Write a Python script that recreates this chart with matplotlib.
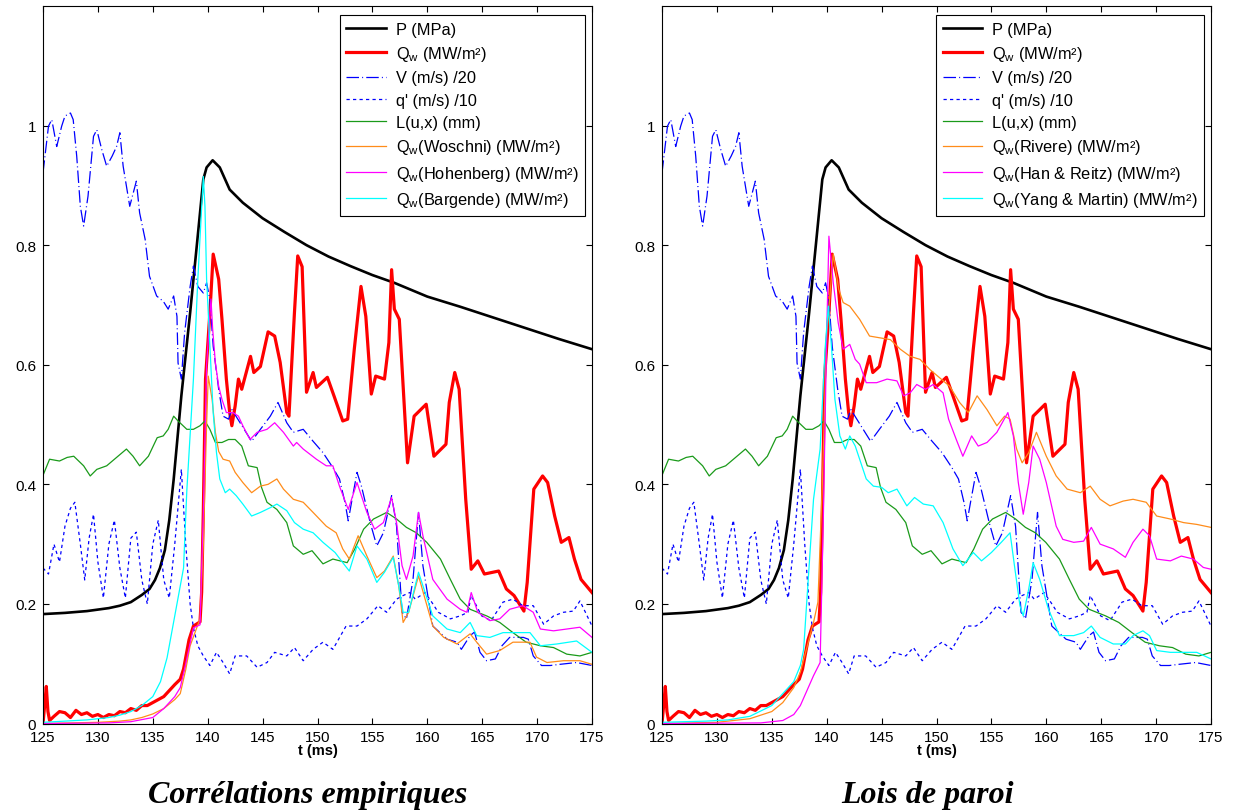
import matplotlib
matplotlib.use("Agg")
import matplotlib.pyplot as plt

plt.rcParams['font.family'] = ['Liberation Sans', 'DejaVu Sans']
plt.rcParams['mathtext.fontset'] = 'custom'
plt.rcParams['mathtext.rm'] = 'Liberation Sans'
plt.rcParams['mathtext.it'] = 'Liberation Sans:italic'

# ---------------- data (shared series) ----------------
t_P = [125, 127, 129, 131, 132, 133, 134, 134.7, 135.2, 135.65, 136.1, 136.5, 136.9, 137.6, 138.4,
       139.0, 139.6, 139.9, 140.45, 141.1, 142.0, 143.2, 145, 147, 149, 151, 153, 155, 157, 160,
       163, 166, 169, 172, 175]
P = [0.183, 0.185, 0.188, 0.193, 0.197, 0.203, 0.215, 0.225, 0.24, 0.26, 0.29, 0.34, 0.408, 0.548, 0.687,
     0.798, 0.91, 0.93, 0.942, 0.93, 0.893, 0.871, 0.845, 0.822, 0.8, 0.781, 0.765, 0.75, 0.737, 0.714,
     0.697, 0.679, 0.661, 0.643, 0.626]

t_Qw = [125, 125.15, 125.3, 125.45, 125.6, 126, 126.5, 127, 127.5, 128, 128.5, 129, 129.5, 130, 130.5,
        131, 131.5, 132, 132.5, 133, 133.5, 134, 134.5, 135, 135.5, 136, 136.5, 137, 137.5, 137.8,
        138.3, 138.7, 139.3, 139.45, 139.6, 139.8, 140.2, 140.5, 141.0, 141.3, 141.7, 142.0, 142.2, 142.5, 142.8,
        143.1, 143.9, 144.2, 144.8, 145.5, 146.1, 146.6, 147.2, 147.4, 147.9, 148.2, 148.6, 149.0, 149.6, 149.9,
        150.9, 151.5, 152.3, 152.75, 153.35, 153.96, 154.4, 154.9, 155.3, 156.1, 156.5, 156.75, 157.0, 157.45, 158.2,
        158.8, 159.9, 160.6, 161.7, 162.0, 162.5, 162.9, 163.5, 164.0, 164.6, 165.2, 166.5, 167.2, 167.9, 168.8,
        169.1, 169.7, 170.5, 170.96, 171.6, 172.2, 172.9, 173.4, 174.0, 175]
Qw = [0.0, 0.03, 0.062, 0.02, 0.005, 0.012, 0.02, 0.018, 0.01, 0.022, 0.015, 0.018, 0.012, 0.015, 0.01,
      0.015, 0.013, 0.02, 0.018, 0.025, 0.022, 0.03, 0.03, 0.035, 0.04, 0.045, 0.055, 0.065, 0.074, 0.091,
      0.14, 0.163, 0.17, 0.22, 0.353, 0.576, 0.687, 0.785, 0.743, 0.676, 0.576, 0.52, 0.498, 0.531, 0.576,
      0.559, 0.614, 0.587, 0.597, 0.655, 0.648, 0.604, 0.52, 0.514, 0.687, 0.782, 0.764, 0.554, 0.587, 0.562,
      0.579, 0.548, 0.506, 0.509, 0.626, 0.731, 0.681, 0.551, 0.581, 0.576, 0.637, 0.759, 0.693, 0.676, 0.436,
      0.514, 0.534, 0.447, 0.467, 0.537, 0.587, 0.559, 0.375, 0.258, 0.272, 0.25, 0.255, 0.225, 0.214, 0.188,
      0.236, 0.392, 0.414, 0.403, 0.347, 0.303, 0.311, 0.275, 0.241, 0.219]

t_V = [125.0, 125.5, 125.8, 126.25, 126.7, 127.0, 127.5, 127.75, 128.07, 128.4, 128.7, 129.1, 129.6, 129.9,
       130.35, 130.8, 131.3, 131.7, 132.0, 132.3, 132.9, 133.5, 133.8, 134.3, 134.7, 135.35, 135.96, 136.4,
       136.9, 137.2, 137.3, 137.6, 137.9, 138.4, 138.7, 139.1, 139.6, 139.9, 140.2, 140.5, 141.0, 141.4,
       141.9, 142.2, 144.0, 144.8, 145.7, 146.4, 147.2, 147.8, 148.7, 149.6, 150.5, 151.4, 152.0, 152.5,
       152.8, 153.1, 153.6, 154.0, 154.8, 155.4, 156.0, 156.75, 157.2, 157.7, 158.1, 158.7, 159.2, 159.6,
       160.5, 161.8, 162.7, 163.1, 163.9, 164.3, 164.8, 165.4, 166.2, 166.8, 167.5, 168.75, 169.2, 169.65,
       170.4, 171.2, 172.1, 173.6, 175]
V = [0.921, 0.999, 1.01, 0.965, 0.999, 1.016, 1.021, 1.01, 0.949, 0.865, 0.832, 0.882, 0.982, 0.993,
     0.96, 0.932, 0.949, 0.965, 0.988, 0.932, 0.865, 0.907, 0.854, 0.81, 0.748, 0.715, 0.706, 0.693,
     0.715, 0.681, 0.603, 0.576, 0.654, 0.731, 0.765, 0.731, 0.72, 0.737, 0.709, 0.631, 0.559, 0.514,
     0.509, 0.525, 0.472, 0.492, 0.514, 0.537, 0.503, 0.487, 0.492, 0.472, 0.453, 0.428, 0.409, 0.37,
     0.339, 0.37, 0.42, 0.397, 0.336, 0.297, 0.319, 0.381, 0.33, 0.186, 0.175, 0.241, 0.353, 0.264,
     0.163, 0.141, 0.136, 0.124, 0.147, 0.153, 0.119, 0.105, 0.108, 0.13, 0.144, 0.144, 0.141, 0.113,
     0.097, 0.097, 0.099, 0.102, 0.097]

t_q = [125, 125.5, 126, 126.5, 127, 127.5, 127.9, 128.4, 128.8, 129.2, 129.6, 130, 130.5, 131, 131.5,
       132, 132.5, 133, 133.5, 134, 134.5, 135, 135.5, 136, 136.5, 137, 137.6, 138.0, 138.4, 138.7,
       139.1, 139.6, 140.2, 140.8, 141.4, 142.0, 142.5, 143.55, 144.5, 145.4, 146.1, 147.2, 147.9, 148.7, 149.6,
       150.5, 151.4, 152.6, 153.6, 154.5, 155.5, 156.3, 157.2, 157.8, 158.4, 158.9, 159.8, 160.4, 161.0, 162.1,
       163.0, 163.7, 164.0, 164.95, 165.8, 166.9, 167.8, 168.7, 169.65, 170.6, 171.5, 172.4, 173.3, 173.9, 174.4,
       175]
q = [0.26, 0.25, 0.3, 0.27, 0.33, 0.36, 0.37, 0.3, 0.24, 0.31, 0.35, 0.27, 0.21, 0.3, 0.34,
     0.26, 0.21, 0.31, 0.32, 0.24, 0.2, 0.3, 0.34, 0.24, 0.21, 0.3, 0.425, 0.3, 0.2, 0.16,
     0.13, 0.113, 0.097, 0.119, 0.102, 0.083, 0.113, 0.113, 0.094, 0.102, 0.119, 0.113, 0.127, 0.105, 0.124,
     0.136, 0.124, 0.163, 0.163, 0.175, 0.197, 0.186, 0.208, 0.214, 0.219, 0.208, 0.219, 0.203, 0.186, 0.175,
     0.18, 0.186, 0.214, 0.18, 0.172, 0.203, 0.208, 0.197, 0.197, 0.166, 0.18, 0.186, 0.188, 0.205, 0.186,
     0.163]

t_L = [125, 125.6, 126.5, 127.2, 127.8, 128.7, 129.3, 129.9, 130.8, 131.7, 132.6, 133.2, 133.8, 134.6,
       135.4, 135.95, 136.4, 136.9, 137.3, 138.1, 138.7, 139.3, 139.75, 140.2, 140.7, 141.3, 141.9, 142.5,
       143.1, 143.7, 144.5, 144.9, 145.4, 146.3, 147.2, 147.8, 148.7, 149.5, 150.5, 151.4, 152.7, 153.4,
       154.2, 155.1, 156.3, 157.2, 158.1, 159.0, 159.95, 161.2, 162.1, 163.0, 163.9, 165.4, 166.6, 167.8,
       169.0, 170.3, 171.5, 172.7, 173.9, 175]
L = [0.415, 0.442, 0.439, 0.445, 0.447, 0.431, 0.414, 0.425, 0.431, 0.445, 0.459, 0.447, 0.431, 0.447,
     0.478, 0.481, 0.492, 0.514, 0.506, 0.492, 0.492, 0.498, 0.506, 0.492, 0.47, 0.47, 0.475, 0.475,
     0.464, 0.431, 0.428, 0.395, 0.37, 0.358, 0.336, 0.297, 0.283, 0.289, 0.267, 0.275, 0.269, 0.292,
     0.325, 0.342, 0.353, 0.342, 0.328, 0.319, 0.303, 0.275, 0.241, 0.208, 0.191, 0.18, 0.169, 0.152,
     0.136, 0.13, 0.127, 0.116, 0.113, 0.119]

# ---------------- left panel models ----------------
t_W = [125, 130, 132, 133, 134, 135, 136, 137, 137.5, 138, 138.4, 139.3, 139.6, 139.9, 140.05, 140.4,
       140.7, 141.0, 141.4, 142.0, 142.5, 143.2, 144.0, 144.8, 145.5, 146.3, 146.9, 147.8, 148.7, 149.6,
       150.8, 151.7, 152.3, 152.9, 153.7, 154.5, 155.4, 156.1, 156.9, 157.4, 157.8, 158.3, 159.2, 159.8,
       160.5, 161.5, 162.7, 163.9, 164.5, 165.4, 166.6, 167.8, 169.35, 169.95, 170.9, 172.4, 173.9, 175]
Woschni = [0.0, 0.002, 0.004, 0.006, 0.01, 0.016, 0.025, 0.04, 0.05, 0.09, 0.13, 0.175, 0.3, 0.5, 0.581, 0.542,
           0.487, 0.455, 0.442, 0.439, 0.42, 0.403, 0.386, 0.397, 0.4, 0.409, 0.392, 0.375, 0.37, 0.353,
           0.33, 0.319, 0.292, 0.275, 0.314, 0.28, 0.244, 0.255, 0.28, 0.23, 0.169, 0.186, 0.247, 0.208,
           0.163, 0.144, 0.133, 0.15, 0.136, 0.116, 0.122, 0.136, 0.136, 0.111, 0.102, 0.105, 0.105, 0.099]

t_H = [125, 131, 133, 135, 136, 137, 137.5, 138, 138.7, 139.3, 139.6, 139.9, 140.3, 140.45, 140.7, 141.0,
       141.3, 141.7, 142.3, 142.8, 143.2, 143.85, 144.5, 145.4, 146.1, 146.9, 147.8, 148.1, 148.7, 149.9,
       150.8, 151.4, 152.0, 152.8, 153.6, 154.5, 155.2, 156.0, 156.75, 157.2, 157.7, 158.1, 158.7, 159.2,
       159.6, 160.5, 161.8, 163.0, 163.6, 164.0, 164.6, 165.7, 166.6, 167.5, 168.7, 169.65, 170.3, 171.5,
       172.7, 173.9, 175]
Hohenberg = [0.0, 0.001, 0.003, 0.01, 0.025, 0.045, 0.06, 0.1, 0.16, 0.165, 0.35, 0.6, 0.71, 0.66, 0.603, 0.564,
             0.542, 0.52, 0.52, 0.514, 0.498, 0.475, 0.487, 0.492, 0.503, 0.487, 0.464, 0.47, 0.459, 0.442,
             0.431, 0.431, 0.397, 0.358, 0.403, 0.353, 0.325, 0.336, 0.378, 0.336, 0.264, 0.241, 0.28, 0.353,
             0.314, 0.241, 0.208, 0.191, 0.186, 0.219, 0.186, 0.172, 0.175, 0.191, 0.197, 0.186, 0.158, 0.155,
             0.158, 0.161, 0.144]

t_B = [125, 127, 129, 131, 132, 133, 134, 135, 135.7, 136.3, 136.8, 137.3, 137.8, 138.1, 138.7, 139.1,
       139.6, 139.75, 139.9, 140.2, 140.5, 140.8, 141.1, 141.6, 142.0, 142.6, 143.2, 144.0, 144.8, 145.7,
       146.3, 147.2, 147.9, 148.7, 149.6, 150.5, 151.6, 152.3, 152.9, 153.6, 154.5, 155.4, 156.1, 156.9,
       157.4, 157.8, 158.3, 159.2, 159.8, 160.5, 161.8, 163.0, 163.9, 164.5, 165.7, 166.9, 167.8, 169.35,
       170.3, 171.8, 173.6, 175]
Bargende = [0.002, 0.004, 0.006, 0.01, 0.014, 0.02, 0.03, 0.045, 0.07, 0.11, 0.16, 0.21, 0.26, 0.39, 0.576, 0.743,
            0.915, 0.865, 0.743, 0.631, 0.52, 0.453, 0.409, 0.386, 0.392, 0.381, 0.367, 0.347, 0.353, 0.361,
            0.367, 0.356, 0.336, 0.325, 0.319, 0.303, 0.286, 0.269, 0.255, 0.297, 0.275, 0.236, 0.253, 0.278,
            0.23, 0.186, 0.186, 0.253, 0.219, 0.18, 0.158, 0.152, 0.169, 0.147, 0.144, 0.152, 0.152, 0.152,
            0.13, 0.133, 0.138, 0.119]

# ---------------- right panel models ----------------
t_R = [125, 130, 133, 135, 136, 137, 137.6, 138.8, 139.2, 139.6, 140.0, 140.6, 141.1, 141.5, 142.1, 143.0,
       143.9, 144.85, 145.8, 146.7, 147.6, 148.5, 149.4, 150.3, 151.2, 152.1, 152.9, 153.7, 154.6, 155.5,
       156.2, 156.7, 157.3, 157.8, 158.4, 159.1, 160.0, 160.9, 161.9, 163.1, 164.0, 164.9, 165.8, 167.0,
       167.9, 169.1, 170.05, 171.3, 172.5, 173.7, 175]
Rivere = [0.0, 0.002, 0.008, 0.02, 0.035, 0.06, 0.086, 0.169, 0.203, 0.4, 0.65, 0.785, 0.726, 0.704, 0.698, 0.676,
          0.648, 0.645, 0.642, 0.626, 0.614, 0.609, 0.592, 0.578, 0.564, 0.537, 0.52, 0.548, 0.525, 0.498,
          0.514, 0.509, 0.459, 0.436, 0.453, 0.487, 0.447, 0.414, 0.392, 0.386, 0.397, 0.375, 0.364, 0.372,
          0.375, 0.37, 0.347, 0.342, 0.336, 0.333, 0.328]

t_HR = [125, 134, 136, 137, 137.6, 138.8, 139.4, 139.7, 140.0, 140.2, 140.6, 141.05, 141.5, 142.1, 142.6,
        143.0, 143.6, 144.55, 145.5, 146.4, 147.0, 147.6, 148.2, 149.0, 149.7, 150.6, 151.1, 151.8, 152.4,
        153.2, 153.8, 154.6, 155.5, 156.5, 157.0, 157.45, 157.9, 158.4, 158.8, 159.4, 160.0, 160.9, 161.5,
        162.5, 163.4, 164.1, 164.9, 166.1, 167.2, 167.9, 168.8, 169.4, 170.05, 171.3, 172.3, 173.4, 174.3, 175]
HanReitz = [0.0, 0.001, 0.005, 0.015, 0.03, 0.08, 0.102, 0.35, 0.65, 0.815, 0.737, 0.67, 0.626, 0.634, 0.609,
            0.601, 0.57, 0.57, 0.576, 0.573, 0.548, 0.553, 0.567, 0.559, 0.567, 0.553, 0.509, 0.475, 0.447,
            0.481, 0.464, 0.47, 0.487, 0.52, 0.481, 0.403, 0.35, 0.403, 0.464, 0.442, 0.403, 0.33, 0.308,
            0.303, 0.305, 0.328, 0.3, 0.292, 0.278, 0.303, 0.325, 0.314, 0.275, 0.272, 0.28, 0.275, 0.261, 0.258]

t_YM = [125, 129, 131, 133, 135, 136, 137, 137.6, 137.9, 138.2, 138.8, 139.4, 139.85, 140.15, 140.45,
        140.75, 141.2, 141.7, 142.1, 142.6, 143.0, 143.6, 144.25, 145.0, 145.6, 146.4, 147.3, 148.0, 148.8,
        149.7, 150.6, 151.5, 152.4, 153.35, 154.1, 155.0, 155.9, 156.7, 157.1, 157.6, 157.9, 158.4, 158.8,
        159.4, 160.2, 161.2, 162.5, 163.4, 164.1, 164.9, 166.1, 167.2, 167.9, 168.8, 169.4, 170.05, 171.3,
        172.5, 173.7, 175]
YangMartin = [0.002, 0.004, 0.006, 0.012, 0.03, 0.05, 0.07, 0.097, 0.124, 0.208, 0.375, 0.459, 0.626, 0.698, 0.626,
              0.542, 0.481, 0.459, 0.481, 0.464, 0.442, 0.409, 0.397, 0.395, 0.386, 0.392, 0.364, 0.378, 0.367,
              0.364, 0.336, 0.292, 0.264, 0.286, 0.272, 0.286, 0.303, 0.319, 0.264, 0.197, 0.18, 0.225, 0.269,
              0.241, 0.191, 0.147, 0.147, 0.152, 0.163, 0.144, 0.133, 0.133, 0.147, 0.155, 0.147, 0.122, 0.119,
              0.119, 0.119, 0.108]

x_ticks = [125, 130, 135, 140, 145, 150, 155, 160, 165, 170, 175]
y_ticks = [0, 0.2, 0.4, 0.6, 0.8, 1]
y_ticklabels = ['0', '0.2', '0.4', '0.6', '0.8', '1']

left_models = [('Woschni', t_W, Woschni), ('Hohenberg', t_H, Hohenberg), ('Bargende', t_B, Bargende)]
right_models = [('Rivere', t_R, Rivere), ('Han & Reitz', t_HR, HanReitz), ('Yang & Martin', t_YM, YangMartin)]
titles = ['Corrélations empiriques', 'Lois de paroi']

C_ORANGE = '#ff8c1a'
C_MAG = '#ff00ff'
C_CYAN = '#00ffff'
C_GREEN = '#1a9a1a'
C_BLUE = '#0000ff'

fig = plt.figure(figsize=(12.33, 8.12), dpi=100)
W, H = 1233, 812
ax_lefts = [43, 662]
for i, (x0, models) in enumerate(zip(ax_lefts, [left_models, right_models])):
    ax = fig.add_axes([x0 / W, (H - 724.5) / H, 549 / W, 717.5 / H])
    ax.plot(t_P, P, color='black', lw=1.9, label='P (MPa)')
    ax.plot(t_Qw, Qw, color='red', lw=2.3, label=r'Q$_{\mathrm{w}}$ (MW/m²)')
    ax.plot(t_V, V, color=C_BLUE, lw=0.9, linestyle=(0, (10, 2.5, 0.8, 2.5)), label='V (m/s) /20')
    ax.plot(t_q, q, color=C_BLUE, lw=0.9, linestyle=(0, (2.6, 2.6)), label="q' (m/s) /10")
    ax.plot(t_L, L, color=C_GREEN, lw=0.9, label='L(u,x) (mm)')
    for (name, tt, vv), col in zip(models, [C_ORANGE, C_MAG, C_CYAN]):
        ax.plot(tt, vv, color=col, lw=0.9, label=r'Q$_{\mathrm{w}}$(' + name + ') (MW/m²)')
    ax.set_xlim(125, 175)
    ax.set_ylim(0, 1.2)
    ax.set_xticks(x_ticks)
    ax.set_yticks(y_ticks)
    ax.set_yticklabels(y_ticklabels)
    ax.tick_params(direction='in', top=True, right=True, length=4, width=0.8,
                   labelsize=11, pad=5)
    for s in ax.spines.values():
        s.set_linewidth(0.8)
    ax.set_xlabel('t (ms)', fontsize=10.5, fontweight='bold', labelpad=-1)
    leg = ax.legend(loc='upper right', bbox_to_anchor=(1 - 7 / 549, 1 - 9 / 717.5),
                    fontsize=11.8, frameon=True, fancybox=False,
                    edgecolor='black', framealpha=1, handlelength=2.4, handletextpad=0.6,
                    borderaxespad=0.0, labelspacing=0.45, borderpad=0.4)
    leg.get_frame().set_linewidth(0.8)
    fig.text((x0 + 265) / W, 1 - 796 / H, titles[i], ha='center', va='center',
             fontsize=23, fontweight='bold', fontstyle='italic', family='Liberation Serif')

fig.savefig('out.png', dpi=100, facecolor='white')
